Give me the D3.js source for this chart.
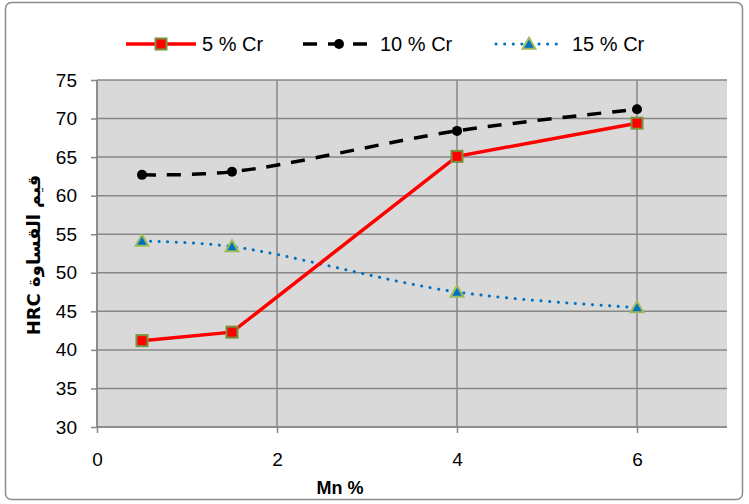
<!DOCTYPE html>
<html>
<head>
<meta charset="utf-8">
<script src="https://cdn.jsdelivr.net/npm/d3@7"></script>
<style>
  body { margin: 0; background: #fff; }
  text { font-family: "Liberation Sans", "DejaVu Sans", sans-serif; }
</style>
</head>
<body>
<div id="chart"></div>
<script>
// Mn % values on the x axis
var mn = [0.5, 1.5, 4, 6];

// hardness (HRC) per Cr content
var cr5 = [41.2, 42.3, 65.1, 69.4];
var cr10 = [62.7, 63.1, 68.4, 71.2];
var cr15 = [54.1, 53.4, 47.5, 45.5];

var seriesNames = ["5 % Cr", "10 % Cr", "15 % Cr"];
var xTicks = [0, 2, 4, 6];
var yTicks = [30, 35, 40, 45, 50, 55, 60, 65, 70, 75];

var W = 749, H = 504;
var margin = {top: 80, right: 22, bottom: 77, left: 97},
    width = 727 - margin.left,
    height = 427 - margin.top;

var svg = d3.select("#chart").append("svg")
  .attr("width", W).attr("height", H);

// outer chart border
svg.append("rect")
  .attr("x", 5.5).attr("y", 2.5)
  .attr("width", 737).attr("height", 497)
  .attr("rx", 6)
  .attr("fill", "#fff")
  .attr("stroke", "#8c8c8c")
  .attr("stroke-width", 1.5);

var g = svg.append("g")
  .attr("transform", "translate(" + margin.left + "," + margin.top + ")");

var x = d3.scaleLinear().domain([0, 7]).range([0, width]);
var y = d3.scaleLinear().domain([30, 75]).range([height, 0]);

// plot area
g.append("rect")
  .attr("width", width).attr("height", height)
  .attr("fill", "#d9d9d9");

// gridlines
g.selectAll(".hgrid").data(yTicks).enter().append("line")
  .attr("x1", 0).attr("x2", width)
  .attr("y1", function(d) { return y(d); })
  .attr("y2", function(d) { return y(d); })
  .attr("stroke", "#878787").attr("stroke-width", 1.5);

g.selectAll(".vgrid").data(xTicks).enter().append("line")
  .attr("y1", 0).attr("y2", height)
  .attr("x1", function(d) { return x(d); })
  .attr("x2", function(d) { return x(d); })
  .attr("stroke", "#878787").attr("stroke-width", 1.5);

// axes
var yAxis = g.append("g")
  .call(d3.axisLeft(y).tickValues(yTicks).tickSize(6).tickPadding(14));
var xAxis = g.append("g")
  .attr("transform", "translate(0," + height + ")")
  .call(d3.axisBottom(x).tickValues(xTicks).tickFormat(d3.format("d")).tickSize(6).tickPadding(20));

[xAxis, yAxis].forEach(function(a) {
  a.select(".domain").attr("stroke", "#878787").attr("stroke-width", 1.5);
  a.selectAll(".tick line").attr("stroke", "#878787").attr("stroke-width", 1.5);
  a.selectAll("text")
    .attr("fill", "#000")
    .style("font-family", "'Liberation Sans', sans-serif")
    .style("font-size", "19px");
});
xAxis.select(".domain").attr("d", "M0,0H" + width);
yAxis.select(".domain").attr("d", "M0," + height + "V0");

// axis titles
svg.append("text")
  .attr("x", x(2.7) + margin.left).attr("y", 494)
  .attr("text-anchor", "middle")
  .attr("font-weight", "bold").attr("font-size", "18px")
  .text("Mn %");

svg.append("text")
  .attr("transform", "translate(40," + 255 + ") rotate(-90)")
  .attr("text-anchor", "middle")
  .attr("font-weight", "bold").attr("font-size", "18px")
  .style("font-family", "'DejaVu Sans', sans-serif")
  .text("HRC قيم القساوة");

// series
var line = d3.line()
  .x(function(d) { return x(d[0]); })
  .y(function(d) { return y(d[1]); });
var smooth = d3.line()
  .x(function(d) { return x(d[0]); })
  .y(function(d) { return y(d[1]); })
  .curve(d3.curveCatmullRom.alpha(0.5));

function pts(vals) { return mn.map(function(m, i) { return [m, vals[i]]; }); }

g.append("path").datum(pts(cr10))
  .attr("d", smooth).attr("fill", "none")
  .attr("stroke", "#000").attr("stroke-width", 3.5)
  .attr("stroke-dasharray", "14,11");
g.append("path").datum(pts(cr15))
  .attr("d", smooth).attr("fill", "none")
  .attr("stroke", "#0070c0").attr("stroke-width", 3)
  .attr("stroke-linecap", "round")
  .attr("stroke-dasharray", "0.1,8.5");
g.append("path").datum(pts(cr5))
  .attr("d", line).attr("fill", "none")
  .attr("stroke", "#ff0000").attr("stroke-width", 3.5);

var tri = d3.symbol().type(d3.symbolTriangle).size(70);

g.selectAll(".m10").data(pts(cr10)).enter().append("circle")
  .attr("cx", function(d) { return x(d[0]); })
  .attr("cy", function(d) { return y(d[1]); })
  .attr("r", 5).attr("fill", "#000");
g.selectAll(".m15").data(pts(cr15)).enter().append("path")
  .attr("d", tri)
  .attr("transform", function(d) { return "translate(" + x(d[0]) + "," + (y(d[1]) + 1) + ")"; })
  .attr("fill", "#0070c0").attr("stroke", "#9bbb59").attr("stroke-width", 2);
g.selectAll(".m5").data(pts(cr5)).enter().append("rect")
  .attr("x", function(d) { return x(d[0]) - 5.5; })
  .attr("y", function(d) { return y(d[1]) - 5.5; })
  .attr("width", 11).attr("height", 11)
  .attr("fill", "#ff0000").attr("stroke", "#77933c").attr("stroke-width", 2);

// legend
var ly = 44;
var leg = svg.append("g");
leg.append("line").attr("x1", 126).attr("x2", 196).attr("y1", ly).attr("y2", ly)
  .attr("stroke", "#ff0000").attr("stroke-width", 3.5);
leg.append("rect").attr("x", 155.5).attr("y", ly - 5.5).attr("width", 11).attr("height", 11)
  .attr("fill", "#ff0000").attr("stroke", "#77933c").attr("stroke-width", 2);
leg.append("text").attr("x", 202).attr("y", ly + 7).attr("font-size", "20px").text(seriesNames[0]);

leg.append("line").attr("x1", 303).attr("x2", 374).attr("y1", ly).attr("y2", ly)
  .attr("stroke", "#000").attr("stroke-width", 3.5).attr("stroke-dasharray", "14,11");
leg.append("circle").attr("cx", 339).attr("cy", ly).attr("r", 5).attr("fill", "#000");
leg.append("text").attr("x", 380).attr("y", ly + 7).attr("font-size", "20px").text(seriesNames[1]);

leg.append("line").attr("x1", 496).attr("x2", 560).attr("y1", ly).attr("y2", ly)
  .attr("stroke", "#0070c0").attr("stroke-width", 3).attr("stroke-linecap", "round")
  .attr("stroke-dasharray", "0.1,8.5");
leg.append("path").attr("d", tri).attr("transform", "translate(529," + (ly + 1) + ")")
  .attr("fill", "#0070c0").attr("stroke", "#9bbb59").attr("stroke-width", 2);
leg.append("text").attr("x", 572).attr("y", ly + 7).attr("font-size", "20px").text(seriesNames[2]);
</script>
</body>
</html>
